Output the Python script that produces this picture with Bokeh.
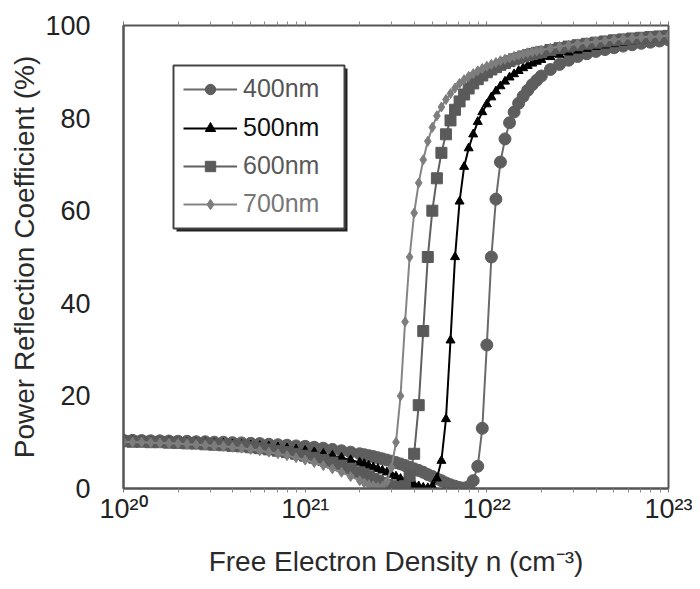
from bokeh.plotting import figure
from bokeh.models import (Range1d, FixedTicker, Legend, LegendItem, BoxAnnotation,
                          LogAxis, ColumnDataSource)
from bokeh.embed import file_html
from bokeh.resources import INLINE

FONT = "Liberation Sans"

# ---------------- data ----------------
# log10 of free electron density n (cm^-3)
log_density = [20.0, 20.05, 20.1, 20.15, 20.2, 20.25, 20.3, 20.35, 20.4, 20.45,
               20.5, 20.55, 20.6, 20.65, 20.7, 20.75, 20.8, 20.85, 20.9, 20.95,
               21.0, 21.05, 21.1, 21.15, 21.2, 21.25, 21.3,
               21.325, 21.35, 21.375, 21.4, 21.425, 21.45, 21.475, 21.5, 21.525, 21.55,
               21.575, 21.6, 21.625, 21.65, 21.675, 21.7, 21.725, 21.75, 21.775, 21.8,
               21.825, 21.85, 21.875, 21.9, 21.925, 21.95, 21.975, 22.0, 22.025, 22.05,
               22.075, 22.1, 22.125, 22.15, 22.175, 22.2, 22.225, 22.25, 22.275, 22.3,
               22.35, 22.4, 22.45, 22.5, 22.55, 22.6, 22.65, 22.7, 22.75, 22.8,
               22.85, 22.9, 22.95, 23.0]

r_400nm = [10.4, 10.4, 10.35, 10.3, 10.3, 10.25, 10.2, 10.2, 10.1, 10.1,
           10.0, 10.0, 9.9, 9.85, 9.75, 9.7, 9.55, 9.45, 9.35, 9.2,
           9.1, 8.9, 8.7, 8.45, 8.15, 7.85, 7.5,
           7.3, 7.1, 6.9, 6.65, 6.4, 6.15, 5.9, 5.6, 5.3, 4.95,
           4.6, 4.25, 3.9, 3.5, 3.0, 2.6, 2.1, 1.7, 1.2, 0.8,
           0.5, 0.2, 0.1, 0.4, 1.7, 4.8, 13.0, 31.0, 50.0, 62.5,
           70.5, 75.5, 79.0, 81.3, 83.2, 84.7, 86.0, 87.2, 88.2, 89.1,
           90.5, 91.6, 92.5, 93.3, 93.9, 94.4, 94.8, 95.2, 95.55, 95.85,
           96.15, 96.4, 96.65, 96.9]

r_500nm = [10.3, 10.25, 10.2, 10.2, 10.1, 10.1, 10.0, 10.0, 9.9, 9.85,
           9.75, 9.7, 9.55, 9.45, 9.35, 9.2, 9.1, 8.9, 8.7, 8.45,
           8.15, 7.85, 7.5, 7.1, 6.65, 6.15, 5.6,
           5.3, 4.95, 4.6, 4.25, 3.9, 3.5, 3.0, 2.6, 2.1, 1.7,
           1.2, 0.8, 0.5, 0.2, 0.1, 0.5, 2.2, 6.0, 15.0, 32.0,
           50.0, 62.0, 69.5, 73.5, 76.5, 79.2, 81.3, 83.0, 84.5, 85.8,
           86.9, 87.9, 88.8, 89.5, 90.2, 90.8, 91.3, 91.8, 92.2, 92.6,
           93.2, 93.7, 94.2, 94.6, 95.0, 95.4, 95.7, 96.0, 96.3, 96.6,
           96.8, 97.0, 97.2, 97.4]

r_600nm = [10.2, 10.1, 10.1, 10.0, 10.0, 9.9, 9.85, 9.75, 9.7, 9.55,
           9.45, 9.35, 9.2, 9.1, 8.9, 8.7, 8.45, 8.15, 7.85, 7.5,
           7.1, 6.65, 6.15, 5.6, 4.95, 4.25, 3.5,
           3.0, 2.6, 2.1, 1.7, 1.2, 0.8, 0.5, 0.25, 0.2, 0.5,
           2.8, 7.5, 18.0, 34.0, 50.0, 60.0, 67.0, 72.5, 76.5, 79.5,
           81.8, 83.6, 85.1, 86.4, 87.5, 88.4, 89.2, 89.9, 90.5, 91.0,
           91.5, 91.9, 92.3, 92.7, 93.0, 93.3, 93.6, 93.85, 94.1, 94.3,
           94.7, 95.1, 95.45, 95.75, 96.05, 96.3, 96.55, 96.8, 97.0, 97.2,
           97.35, 97.5, 97.65, 97.75]

r_700nm = [10.1, 10.0, 10.0, 9.9, 9.85, 9.75, 9.7, 9.55, 9.45, 9.35,
           9.2, 9.1, 8.9, 8.7, 8.45, 8.15, 7.85, 7.5, 7.1, 6.65,
           6.15, 5.6, 4.95, 4.25, 3.5, 2.6, 1.7,
           1.2, 0.85, 0.6, 0.3, 0.4, 1.5, 4.5, 10.0, 20.0, 36.0,
           50.0, 59.5, 66.0, 71.0, 75.0, 78.0, 80.5, 82.4, 84.0, 85.3,
           86.5, 87.5, 88.3, 89.0, 89.6, 90.2, 90.7, 91.2, 91.6, 92.0,
           92.4, 92.7, 93.0, 93.3, 93.6, 93.85, 94.1, 94.3, 94.5, 94.7,
           95.1, 95.45, 95.75, 96.05, 96.3, 96.5, 96.75, 96.95, 97.15, 97.3,
           97.45, 97.55, 97.65, 97.8]

series_labels = ["400nm", "500nm", "600nm", "700nm"]

x_major_ticks = [1e20, 1e21, 1e22, 1e23]
x_tick_labels = ["10²⁰", "10²¹", "10²²", "10²³"]
x_minor_ticks = [2e20, 3e20, 4e20, 5e20, 6e20, 7e20, 8e20, 9e20,
                 2e21, 3e21, 4e21, 5e21, 6e21, 7e21, 8e21, 9e21,
                 2e22, 3e22, 4e22, 5e22, 6e22, 7e22, 8e22, 9e22]
y_ticks = [0, 20, 40, 60, 80, 100]

# ---------------- figure ----------------
p = figure(width=692, height=581, x_axis_type="log",
           x_range=Range1d(1e20, 1e23), y_range=Range1d(0, 100),
           output_backend="svg", toolbar_location=None,
           min_border_left=123, min_border_right=24,
           min_border_top=25, min_border_bottom=93)
p.xgrid.visible = False
p.ygrid.visible = False
p.outline_line_color = "#555555"
p.outline_line_width = 2
p.outline_line_alpha = 1.0
p.background_fill_color = "white"
p.border_fill_color = "white"

xa = p.xaxis[0]
xa.ticker = FixedTicker(ticks=x_major_ticks, minor_ticks=x_minor_ticks)
xa.major_label_overrides = dict(zip(x_major_ticks, x_tick_labels))
xa.axis_line_color = "#555555"
xa.axis_line_width = 2
xa.major_tick_in = 0
xa.major_tick_out = 4
xa.minor_tick_in = 0
xa.minor_tick_out = 4
xa.major_tick_line_color = "#777777"
xa.minor_tick_line_color = "#888888"
xa.major_label_standoff = 1
xa.major_label_text_font = FONT
xa.major_label_text_font_size = "27px"
xa.major_label_text_color = "#222222"
xa.axis_label = "Free Electron Density n (cm⁻³)"
xa.axis_label_text_font = FONT
xa.axis_label_text_font_size = "28px"
xa.axis_label_text_font_style = "normal"
xa.axis_label_text_color = "#2a2a2a"
xa.axis_label_standoff = 19

top_axis = LogAxis(ticker=FixedTicker(ticks=x_major_ticks, minor_ticks=x_minor_ticks),
                   major_label_overrides={t: "" for t in x_major_ticks},
                   major_label_standoff=0,
                   axis_line_color=None, major_tick_in=0, major_tick_out=4,
                   minor_tick_in=0, minor_tick_out=4,
                   major_tick_line_color="#777777", minor_tick_line_color="#888888")
p.add_layout(top_axis, "above")

ya = p.yaxis[0]
ya.ticker = FixedTicker(ticks=y_ticks)
ya.axis_line_color = "#555555"
ya.axis_line_width = 2
ya.major_tick_line_color = None
ya.minor_tick_line_color = None
ya.major_label_standoff = 27
ya.major_label_text_font = FONT
ya.major_label_text_font_size = "27px"
ya.major_label_text_color = "#222222"
ya.axis_label = "Power Reflection Coefficient (%)"
ya.axis_label_text_font = FONT
ya.axis_label_text_font_size = "28px"
ya.axis_label_text_font_style = "normal"
ya.axis_label_text_color = "#2a2a2a"
ya.axis_label_standoff = 2

density = [10 ** v for v in log_density]
series = [r_400nm, r_500nm, r_600nm, r_700nm]
line_colors = ["#6a6a6a", "#000000", "#606060", "#858585"]
fill_colors = ["#5e5e5e", "#000000", "#5a5a5a", "#7d7d7d"]
markers = ["circle", "triangle", "square", "diamond"]
sizes = [12, 9, 11, 10]
text_colors = ["#555555", "#111111", "#5a5a5a", "#777777"]

renderers = []
for vals, lc, fc, mk, sz in zip(series, line_colors, fill_colors, markers, sizes):
    src = ColumnDataSource(dict(x=density, y=vals))
    lr = p.line("x", "y", source=src, line_color=lc, line_width=2)
    sr = p.scatter("x", "y", source=src, marker=mk, size=sz, fill_color=fc,
                   line_color=fc, line_width=1)
    renderers.append((lr, sr))

# legend box with shadow (screen units)
shadow = BoxAnnotation(left=53, right=224, bottom=257, top=420,
                       left_units="screen", right_units="screen",
                       bottom_units="screen", top_units="screen",
                       fill_color="#222222", fill_alpha=1.0, line_color=None)
box = BoxAnnotation(left=50, right=221, bottom=260, top=423,
                    left_units="screen", right_units="screen",
                    bottom_units="screen", top_units="screen",
                    fill_color="white", fill_alpha=1.0,
                    line_color="#444444", line_width=2, line_alpha=1.0)
p.add_layout(shadow)
p.add_layout(box)

row_bottoms = [385, 346, 308, 270]
for (lr, sr), lab, tc, yb in zip(renderers, series_labels, text_colors, row_bottoms):
    leg = Legend(items=[LegendItem(label=lab, renderers=[lr, sr])],
                 location=(60, yb), border_line_color=None,
                 background_fill_alpha=0.0, padding=2, margin=0,
                 glyph_width=54, glyph_height=26, label_height=26,
                 label_standoff=6, spacing=0,
                 label_text_font=FONT, label_text_font_size="25px",
                 label_text_color=tc)
    p.add_layout(leg)

open("out.html", "w").write(file_html(p, INLINE))
